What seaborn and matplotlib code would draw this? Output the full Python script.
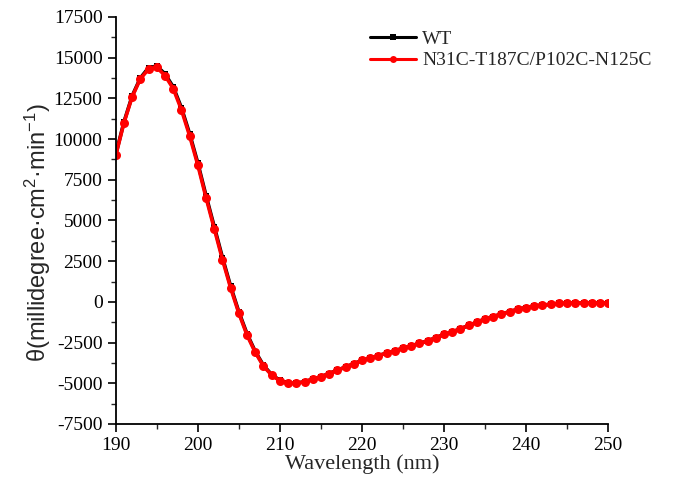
import matplotlib.pyplot as plt
import matplotlib.ticker as mtick
import pandas as pd
import seaborn as sns

sns.set_theme(style="ticks")
plt.rcParams["font.family"] = ["Liberation Serif", "DejaVu Serif"]
plt.rcParams["axes.unicode_minus"] = False
plt.rcParams["mathtext.fontset"] = "custom"
plt.rcParams["mathtext.rm"] = "Liberation Sans"
plt.rcParams["mathtext.it"] = "Liberation Sans"

wavelength = list(range(190, 251))

wt = [
    9050, 11050, 12650, 13750, 14380, 14480, 14000, 13200, 11920, 10320,
    8520, 6520, 4620, 2720, 950, -620, -1970, -3050, -3900, -4470,
    -4820, -5000, -5000, -4900, -4750, -4600, -4400, -4200, -4000, -3800,
    -3600, -3450, -3300, -3150, -3000, -2850, -2700, -2550, -2400, -2200,
    -2000, -1850, -1650, -1450, -1250, -1050, -900, -750, -600, -450,
    -350, -250, -200, -150, -100, -80, -60, -60, -60, -70, -80,
]

mutant = [
    9000, 11000, 12600, 13700, 14300, 14400, 13900, 13100, 11800, 10200,
    8400, 6400, 4500, 2600, 850, -700, -2050, -3100, -3950, -4500,
    -4850, -5000, -5000, -4900, -4750, -4600, -4400, -4200, -4000, -3800,
    -3600, -3450, -3300, -3150, -3000, -2850, -2700, -2550, -2400, -2200,
    -2000, -1850, -1650, -1450, -1250, -1050, -900, -750, -600, -450,
    -350, -250, -200, -150, -100, -80, -60, -60, -60, -70, -80,
]

series_names = ["WT", "N31C-T187C/P102C-N125C"]

data = pd.concat(
    [
        pd.DataFrame({"wavelength": wavelength, "theta": wt, "sample": series_names[0]}),
        pd.DataFrame({"wavelength": wavelength, "theta": mutant, "sample": series_names[1]}),
    ],
    ignore_index=True,
)

fig = plt.figure(figsize=(6.81, 4.84), dpi=100)
ax = fig.add_axes([0.170, 0.124, 0.723, 0.841])

sns.lineplot(
    data=data[data["sample"] == series_names[0]],
    x="wavelength",
    y="theta",
    color="black",
    marker="s",
    markersize=4.5,
    markeredgewidth=0,
    linewidth=2.6,
    label=series_names[0],
    ax=ax,
)
sns.lineplot(
    data=data[data["sample"] == series_names[1]],
    x="wavelength",
    y="theta",
    color="#ff0000",
    marker="o",
    markersize=6.5,
    markeredgewidth=0,
    linewidth=2.6,
    label=series_names[1],
    ax=ax,
)

ax.set_xlim(190, 250)
ax.set_ylim(-7500, 17500)
ax.xaxis.set_major_locator(mtick.MultipleLocator(10))
ax.xaxis.set_minor_locator(mtick.MultipleLocator(5))
ax.yaxis.set_major_locator(mtick.MultipleLocator(2500))
ax.yaxis.set_minor_locator(mtick.MultipleLocator(1250))
ax.tick_params(axis="both", which="major", direction="out", length=6, width=1.2, labelsize=14, colors="black")
ax.tick_params(axis="both", which="minor", direction="out", length=3.5, width=1.0)
for side in ["top", "right"]:
    ax.spines[side].set_visible(False)
for side in ["left", "bottom"]:
    ax.spines[side].set_linewidth(1.3)
    ax.spines[side].set_color("black")

ax.set_xlabel("Wavelength (nm)", fontsize=16, labelpad=0)
ax.set_ylabel(
    r"θ(millidegree·cm$^{2}$·min$^{-1}$)",
    fontsize=17,
    family=["Liberation Sans", "DejaVu Sans"],
)
ax.yaxis.set_label_coords(-0.128, 0.47)

leg = ax.legend(
    loc="upper left",
    bbox_to_anchor=(0.48, 1.01),
    frameon=False,
    fontsize=14,
    handlelength=2.4,
    handletextpad=0.3,
    labelspacing=0.2,
)
for line in leg.get_lines():
    line.set_linewidth(2.2)
    line.set_markersize(5)

fig.savefig("out.png", dpi=100)
